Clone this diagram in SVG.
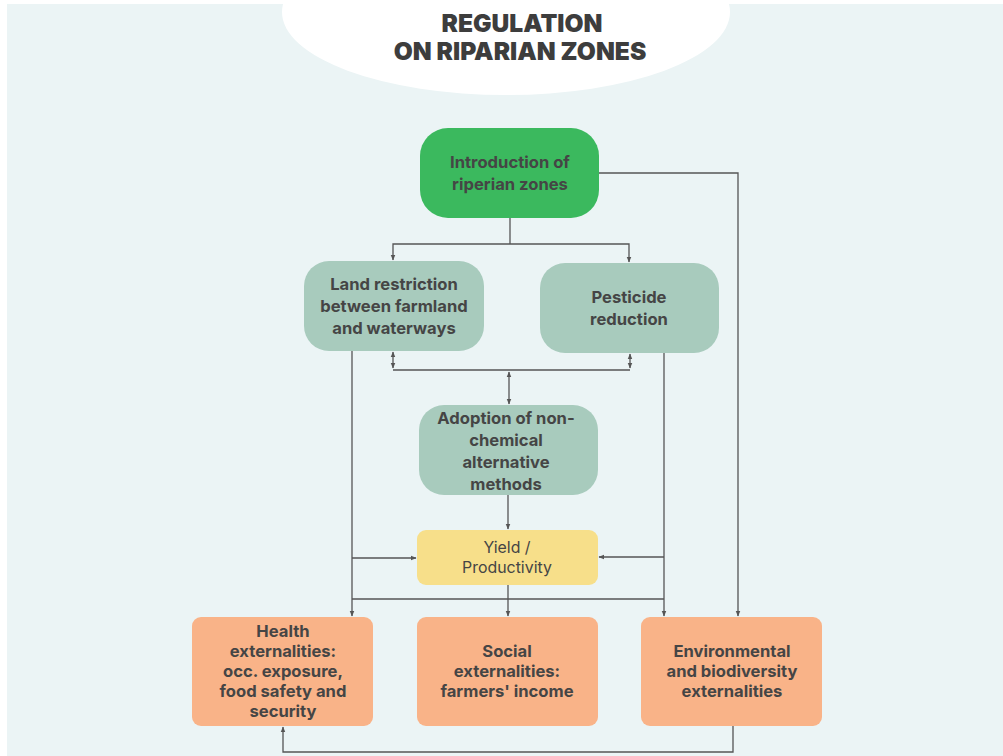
<svg xmlns="http://www.w3.org/2000/svg" width="1003" height="756" viewBox="0 0 1003 756">
  <defs>
    <marker id="arr" viewBox="0 0 10 10" refX="9" refY="5" markerWidth="4.5" markerHeight="4.5" orient="auto-start-reverse">
      <path d="M0,1 L10,5 L0,9 z" fill="#555"/>
    </marker>
    <clipPath id="panel">
      <rect x="7" y="4" width="996" height="752"/>
    </clipPath>
  </defs>
  <style>
    .bg { fill: #ffffff; }
    .panel { fill: #EBF4F5; }
    .title { font-family: Inter, "Liberation Sans", sans-serif; font-weight: 900; font-size: 24.6px; fill: #3d3d3d; text-anchor: middle; }
    .lbl { font-family: Inter, "Liberation Sans", sans-serif; font-weight: 700; font-size: 16.6px; fill: #454545; text-anchor: middle; }
    .lbl-reg { font-family: Inter, "Liberation Sans", sans-serif; font-weight: 400; font-size: 15.9px; fill: #454545; text-anchor: middle; }
    .green { fill: #3BB95E; }
    .sage { fill: #A8CBBD; }
    .yellow { fill: #F7DF8A; }
    .orange { fill: #F9B388; }
    .conn { fill: none; stroke: #555; stroke-width: 1.3; }
  </style>

  <rect class="bg" x="0" y="0" width="1003" height="756"/>
  <rect class="panel" x="7" y="4" width="996" height="752"/>

  <!-- header cloud -->
  <g id="header" clip-path="url(#panel)">
    <ellipse cx="506" cy="12" rx="224" ry="83" fill="#ffffff"/>
    <text class="title" x="522" y="32">REGULATION</text>
    <text class="title" x="520" y="60">ON RIPARIAN ZONES</text>
  </g>

  <!-- connectors -->
  <g id="connectors">
    <path class="conn" d="M510,218 V244"/>
    <path class="conn" d="M510,244 H393 V260" marker-end="url(#arr)"/>
    <path class="conn" d="M510,244 H629 V262" marker-end="url(#arr)"/>
    <path class="conn" d="M599,173 H738 V616" marker-end="url(#arr)"/>

    <path class="conn" d="M393,368 V352" marker-end="url(#arr)" marker-start="url(#arr)"/>
    <path class="conn" d="M630,368 V354" marker-end="url(#arr)" marker-start="url(#arr)"/>
    <path class="conn" d="M393,370 H630"/>
    <path class="conn" d="M509,372 V404" marker-end="url(#arr)" marker-start="url(#arr)"/>

    <path class="conn" d="M352,351 V616" marker-end="url(#arr)"/>
    <path class="conn" d="M352,558 H416" marker-end="url(#arr)"/>
    <path class="conn" d="M664,353 V616" marker-end="url(#arr)"/>
    <path class="conn" d="M664,557 H599" marker-end="url(#arr)"/>
    <path class="conn" d="M352,599 H664"/>

    <path class="conn" d="M508,495 V529" marker-end="url(#arr)"/>
    <path class="conn" d="M508,585 V616" marker-end="url(#arr)"/>

    <path class="conn" d="M733,726 V752 H283 V727" marker-end="url(#arr)"/>
  </g>

  <g id="intro">
    <rect class="green" x="420" y="128" width="179" height="90" rx="28"/>
    <text class="lbl" x="510" y="168">Introduction of</text>
    <text class="lbl" x="510" y="190">riperian zones</text>
  </g>

  <g id="land">
    <rect class="sage" x="304" y="261" width="180" height="90" rx="25"/>
    <text class="lbl" x="394" y="290">Land restriction</text>
    <text class="lbl" x="394" y="312">between farmland</text>
    <text class="lbl" x="394" y="334">and waterways</text>
  </g>

  <g id="pesticide">
    <rect class="sage" x="540" y="263" width="179" height="90" rx="25"/>
    <text class="lbl" x="629" y="303">Pesticide</text>
    <text class="lbl" x="629" y="325">reduction</text>
  </g>

  <g id="adoption">
    <rect class="sage" x="419" y="405" width="179" height="90" rx="25"/>
    <text class="lbl" x="506" y="424">Adoption of non-</text>
    <text class="lbl" x="506" y="446">chemical</text>
    <text class="lbl" x="506" y="468">alternative</text>
    <text class="lbl" x="506" y="490">methods</text>
  </g>

  <g id="yield">
    <rect class="yellow" x="417" y="530" width="181" height="55" rx="9"/>
    <text class="lbl-reg" x="507" y="553">Yield /</text>
    <text class="lbl-reg" x="507" y="573">Productivity</text>
  </g>

  <g id="health">
    <rect class="orange" x="192" y="617" width="181" height="109" rx="9"/>
    <text class="lbl" x="283" y="637">Health</text>
    <text class="lbl" x="283" y="657">externalities:</text>
    <text class="lbl" x="283" y="677">occ. exposure,</text>
    <text class="lbl" x="283" y="697">food safety and</text>
    <text class="lbl" x="283" y="717">security</text>
  </g>

  <g id="social">
    <rect class="orange" x="417" y="617" width="181" height="109" rx="9"/>
    <text class="lbl" x="507" y="657">Social</text>
    <text class="lbl" x="507" y="677">externalities:</text>
    <text class="lbl" x="507" y="697">farmers' income</text>
  </g>

  <g id="environment">
    <rect class="orange" x="641" y="617" width="181" height="109" rx="9"/>
    <text class="lbl" x="732" y="657">Environmental</text>
    <text class="lbl" x="732" y="677">and biodiversity</text>
    <text class="lbl" x="732" y="697">externalities</text>
  </g>
</svg>
